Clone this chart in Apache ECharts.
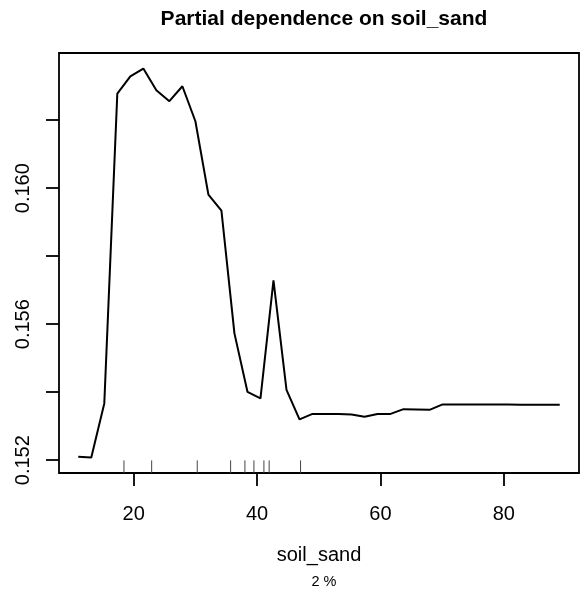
<!DOCTYPE html>
<html>
<head>
<meta charset="utf-8">
<script src="https://cdn.jsdelivr.net/npm/echarts@6/dist/echarts.min.js"></script>
<style>
  html, body { margin: 0; padding: 0; background: #fff; }
  #chart { width: 584px; height: 593px; }
</style>
</head>
<body>
<div id="chart"></div>
<script>
// grid of soil_sand values used for the partial dependence
const sandGrid = [
  11.01, 13.12, 15.23, 17.34, 19.45, 21.56, 23.67, 25.78, 27.89, 30.00,
  32.11, 34.22, 36.33, 38.44, 40.55, 42.66, 44.77, 46.88, 48.98, 51.09,
  53.20, 55.31, 57.42, 59.53, 61.64, 63.75, 65.86, 67.97, 70.08, 72.19,
  74.30, 76.41, 78.52, 80.63, 82.74, 84.85, 86.96, 89.07
];
// partial dependence values
const partialDep = [
  0.15210, 0.15208, 0.15367, 0.16278, 0.16329, 0.16352, 0.16288, 0.16256, 0.16300, 0.16197,
  0.15981, 0.15934, 0.15573, 0.15401, 0.15382, 0.15729, 0.15407, 0.15320, 0.15336, 0.15336,
  0.15336, 0.15334, 0.15328, 0.15336, 0.15336, 0.15350, 0.15349, 0.15348, 0.15364, 0.15364,
  0.15364, 0.15364, 0.15364, 0.15364, 0.15363, 0.15363, 0.15363, 0.15363
];
// deciles of soil_sand (rug)
const sandDeciles = [18.42, 22.91, 30.30, 35.71, 38.03, 39.49, 41.11, 41.96, 47.05];

const xTicks = [20, 40, 60, 80];
const yTicks = [0.152, 0.154, 0.156, 0.158, 0.160, 0.162];
const yLabels = [0.152, 0.156, 0.160];

// R style 4% axis expansion
const expand = (arr) => {
  const lo = Math.min(...arr), hi = Math.max(...arr);
  const d = (hi - lo) * 0.04;
  return [lo - d, hi + d];
};
const [xMin, xMax] = expand(sandGrid);
const [yMin, yMax] = expand(partialDep);

const chart = echarts.init(document.getElementById('chart'));

const font = 'Liberation Sans, Arial, Helvetica, sans-serif';

chart.setOption({
  animation: false,
  backgroundColor: '#fff',
  title: [
    {
      text: 'Partial dependence on soil_sand',
      left: 319,
      top: 4,
      textAlign: 'center',
      textStyle: { fontFamily: font, fontWeight: 'bold', fontSize: 21, color: '#000' }
    },
    {
      text: '2 %',
      left: 319,
      top: 569,
      textAlign: 'center',
      textStyle: { fontFamily: font, fontWeight: 'normal', fontSize: 14.5, color: '#000' }
    }
  ],
  grid: {
    left: 59,
    top: 53,
    width: 520,
    height: 420,
    show: true,
    borderColor: '#000',
    borderWidth: 1.8,
    backgroundColor: 'transparent'
  },
  xAxis: {
    type: 'value',
    min: xMin,
    max: xMax,
    name: 'soil_sand',
    nameLocation: 'middle',
    nameGap: 72,
    nameTextStyle: { fontFamily: font, fontSize: 20, color: '#000' },
    splitLine: { show: false },
    axisLine: { show: false },
    axisTick: {
      show: true,
      inside: false,
      length: 13,
      customValues: xTicks,
      lineStyle: { color: '#000', width: 1.8 }
    },
    axisLabel: {
      customValues: xTicks,
      margin: 31,
      fontFamily: font,
      fontSize: 20,
      color: '#000'
    }
  },
  yAxis: {
    type: 'value',
    min: yMin,
    max: yMax,
    splitLine: { show: false },
    axisLine: { show: false },
    axisTick: {
      show: true,
      inside: false,
      length: 13,
      customValues: yTicks,
      lineStyle: { color: '#000', width: 1.8 }
    },
    axisLabel: {
      customValues: yLabels,
      rotate: 90,
      margin: 26,
      fontFamily: font,
      fontSize: 20,
      color: '#000',
      formatter: (v) => v.toFixed(3)
    }
  },
  series: [
    {
      type: 'line',
      data: sandGrid.map((x, i) => [x, partialDep[i]]),
      showSymbol: false,
      symbol: 'none',
      lineStyle: { color: '#000', width: 2 },
      z: 3
    },
    {
      type: 'custom',
      data: sandDeciles.map((x) => [x, yMin]),
      encode: { x: 0, y: 1 },
      renderItem: (params, api) => {
        const p = api.coord([api.value(0), api.value(1)]);
        return {
          type: 'line',
          shape: { x1: p[0], y1: p[1], x2: p[0], y2: p[1] - 12.6 },
          style: { stroke: '#444', lineWidth: 1 }
        };
      },
      z: 2
    }
  ]
});
</script>
</body>
</html>
